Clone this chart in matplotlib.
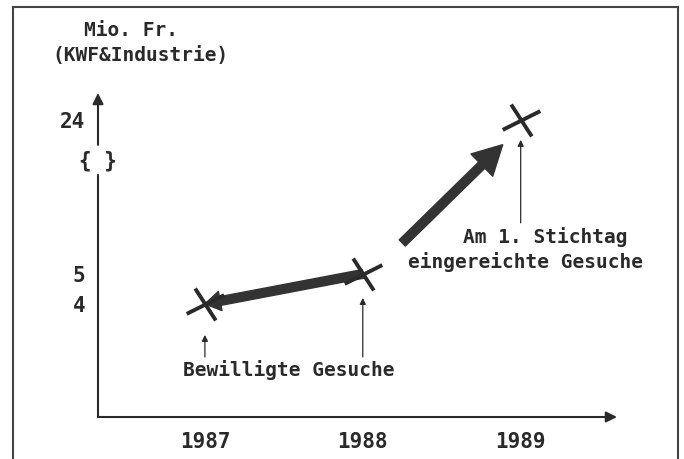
import numpy as np
import matplotlib
matplotlib.use('Agg')
import matplotlib.pyplot as plt
from matplotlib.path import Path
from matplotlib.lines import Line2D
from matplotlib.transforms import offset_copy

# data
years = [1987, 1988, 1989]
values = [4, 5, 24]          # Mio. Fr.
ytick_vals = [4, 5, 24]
ytick_labels = ['4', '5', '24']
year_labels = ['1987', '1988', '1989']
label_bewilligt = 'Bewilligte Gesuche'
label_stichtag = ['Am 1. Stichtag', 'eingereichte Gesuche']

W, H = 684, 459
FONT = 'DejaVu Sans Mono'
INK = '#2a2a2a'

# broken y axis: linear up to 6, compressed above
BRK, K = 6.0, 0.2296
def fwd(v):
    v = np.asarray(v, dtype=float)
    return np.where(v <= BRK, v, BRK + (v - BRK) * K)
def inv(w):
    w = np.asarray(w, dtype=float)
    return np.where(w <= BRK, w, BRK + (w - BRK) / K)

fig = plt.figure(figsize=(W / 100, H / 100), dpi=100)
ax = fig.add_axes([98 / W, 1 - 417 / H, (617 - 98) / W, (417 - 93) / H])
ax.set_yscale('function', functions=(fwd, inv))
ax.set_xlim(1986.323, 1989.61)
ax.set_ylim(0.233, 27.9)
for s in ax.spines.values():
    s.set_visible(False)

ax.set_xticks(years)
ax.set_xticklabels(year_labels, fontfamily=FONT, fontsize=15, fontweight='bold', color=INK)
ax.set_yticks(ytick_vals)
ax.set_yticklabels(ytick_labels, fontfamily=FONT, fontsize=15, fontweight='bold', color=INK)
ax.tick_params(axis='x', length=0, pad=11)
ax.tick_params(axis='y', length=0, pad=9)
ax.minorticks_off()

# axes with arrows (y axis broken)
head = dict(arrowstyle='-|>', lw=1.5, color=INK, mutation_scale=16, shrinkA=0, shrinkB=0)
ax.annotate('', xy=(1.0, 0), xytext=(0, 0), xycoords='axes fraction', arrowprops=head)
ax.annotate('', xy=(0, 0.747), xytext=(0, 0), xycoords='axes fraction',
            arrowprops=dict(arrowstyle='-', lw=1.5, color=INK, shrinkA=0, shrinkB=0))
ax.annotate('', xy=(0, 1.0), xytext=(0, 0.84), xycoords='axes fraction', arrowprops=head)
ax.text(0, 0.79, '{ }', transform=ax.transAxes, ha='center', va='center',
        fontfamily=FONT, fontsize=15, fontweight='bold', color=INK)

# cross marker
cross = Path([(-1, -0.5), (1, 0.5), (-0.55, 0.85), (0.55, -0.85)],
             [Path.MOVETO, Path.LINETO, Path.MOVETO, Path.LINETO])
ax.plot(years, values, linestyle='none', marker=cross, markersize=27,
        markeredgewidth=2.8, color=INK, clip_on=False, zorder=4)

# thick arrows
thick = dict(arrowstyle='simple,head_length=0.8,head_width=1.0,tail_width=0.45',
             color='#333333', mutation_scale=14, shrinkA=0, shrinkB=0)
ax.annotate('', xy=(years[0], values[0]), xytext=(years[1], values[1]), arrowprops=thick)
ax.annotate('', xy=(1988.886, 20.4), xytext=(1988.25, 6.14),
            arrowprops=dict(thick, arrowstyle='simple,head_length=1.5,head_width=1.6,tail_width=0.45'))

# thin pointer arrows (tip/tail offsets below each point, in pixels)
tips = [31, 24, 20]
tails = [53, 83, 103]
for yr, v, tp, tl in zip(years, values, tips, tails):
    ax.annotate('', xy=(yr, v), xytext=(yr, v),
                xycoords=offset_copy(ax.transData, fig=fig, y=-tp, units='dots'),
                textcoords=offset_copy(ax.transData, fig=fig, y=-tl, units='dots'),
                arrowprops=dict(arrowstyle='-|>', lw=0.9, color=INK,
                                mutation_scale=9, shrinkA=0, shrinkB=0))

txt = dict(fontfamily=FONT, fontsize=14, fontweight='bold', color=INK, ha='center', va='center')
fig.text(289 / W, 1 - 370 / H, label_bewilligt, **txt)
fig.text(545 / W, 1 - 237 / H, label_stichtag[0], **txt)
fig.text(526 / W, 1 - 262 / H, label_stichtag[1], **txt)
fig.text(131 / W, 1 - 31 / H, 'Mio. Fr.', **txt)
fig.text(140 / W, 1 - 55 / H, '(KWF&Industrie)', **txt)

# outer frame (no bottom edge visible)
fx = lambda p: p / W
fy = lambda p: 1 - p / H
for xs, ys in [([13, 13], [7, 459]), ([13, 678], [7, 7]), ([678, 678], [7, 459])]:
    fig.add_artist(Line2D([fx(x) for x in xs], [fy(y) for y in ys],
                          color='#444444', lw=1.5))

fig.savefig('out.png', dpi=100)
